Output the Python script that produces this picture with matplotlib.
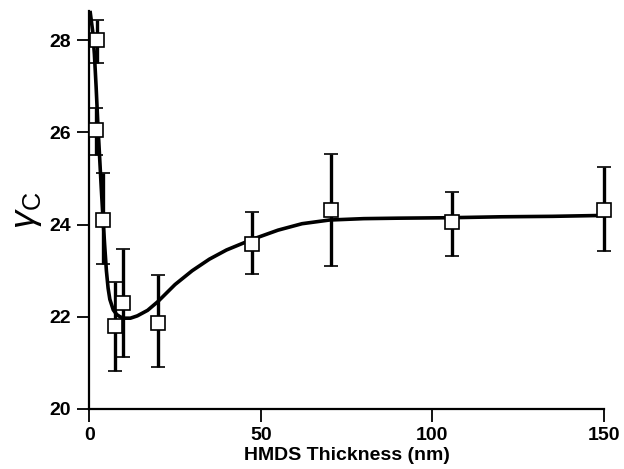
import numpy as np
import matplotlib.pyplot as plt

plt.rcParams['font.family'] = ['Liberation Sans', 'DejaVu Sans']
plt.rcParams['mathtext.fontset'] = 'custom'
plt.rcParams['mathtext.rm'] = 'Liberation Sans'
plt.rcParams['mathtext.it'] = 'Liberation Sans:italic'

# measured points (HMDS thickness, gamma_c) with error bar ends
thick = [2.2, 2.0, 4.1, 7.4, 9.9, 20.0, 47.5, 70.4, 105.6, 150.0]
gamma = [28.0, 26.05, 24.1, 21.79, 22.3, 21.87, 23.57, 24.32, 24.05, 24.32]
err_hi = [28.45, 26.54, 25.12, 22.76, 23.47, 22.9, 24.28, 25.53, 24.7, 25.24]
err_lo = [27.51, 25.52, 23.15, 20.82, 21.13, 20.9, 22.92, 23.1, 23.33, 23.43]

# fitted curve
curve_x = [0.3, 1.0, 1.5, 2.0, 2.5, 3.0, 3.5, 4.0, 4.5, 5.0, 5.5, 6.0, 7.0, 8.0,
           9.0, 10.0, 12.0, 14.0, 17.0, 20.0, 25.0, 30.0, 35.0, 40.0, 47.5,
           55.0, 62.0, 70.0, 80.0, 90.0, 105.0, 120.0, 135.0, 150.0]
curve_y = [28.6, 28.2, 27.7, 27.0, 26.2, 25.5, 24.8, 24.15, 23.55, 23.0, 22.62,
           22.38, 22.15, 22.05, 22.0, 21.97, 21.97, 22.02, 22.14, 22.33, 22.7,
           23.0, 23.25, 23.45, 23.68, 23.88, 24.02, 24.1, 24.13, 24.14, 24.15,
           24.17, 24.18, 24.2]

thick = np.array(thick)
gamma = np.array(gamma)
yerr = [gamma - np.array(err_lo), np.array(err_hi) - gamma]

fig = plt.figure(figsize=(6.24, 4.69), dpi=100)
ax = fig.add_axes([0.143, 0.128, 0.825, 0.848])

ax.plot(curve_x, curve_y, color='black', lw=2.6, clip_on=False, zorder=2)
ax.errorbar(thick, gamma, yerr=yerr, fmt='s', color='black', ms=9.5,
            mfc='white', mec='black', mew=1.2, ecolor='black', elinewidth=2.4,
            capsize=5, capthick=2.4, clip_on=False, zorder=3)

ax.set_xlim(0, 150)
ax.set_ylim(20, 28.63)
ax.set_xticks([0, 50, 100, 150])
ax.set_yticks([20, 22, 24, 26, 28])
for s in ['top', 'right']:
    ax.spines[s].set_visible(False)
for s in ['left', 'bottom']:
    ax.spines[s].set_linewidth(1.6)
ax.tick_params(direction='out', length=9, width=1.3, labelsize=14, pad=4)
for lab in ax.get_xticklabels() + ax.get_yticklabels():
    lab.set_fontweight('bold')

ax.set_xlabel('HMDS Thickness (nm)', fontsize=14, fontweight='bold', labelpad=2)
ax.set_ylabel(r'$\gamma_{\mathrm{C}}$', fontsize=26, labelpad=4)

fig.savefig('out.png', dpi=100)
